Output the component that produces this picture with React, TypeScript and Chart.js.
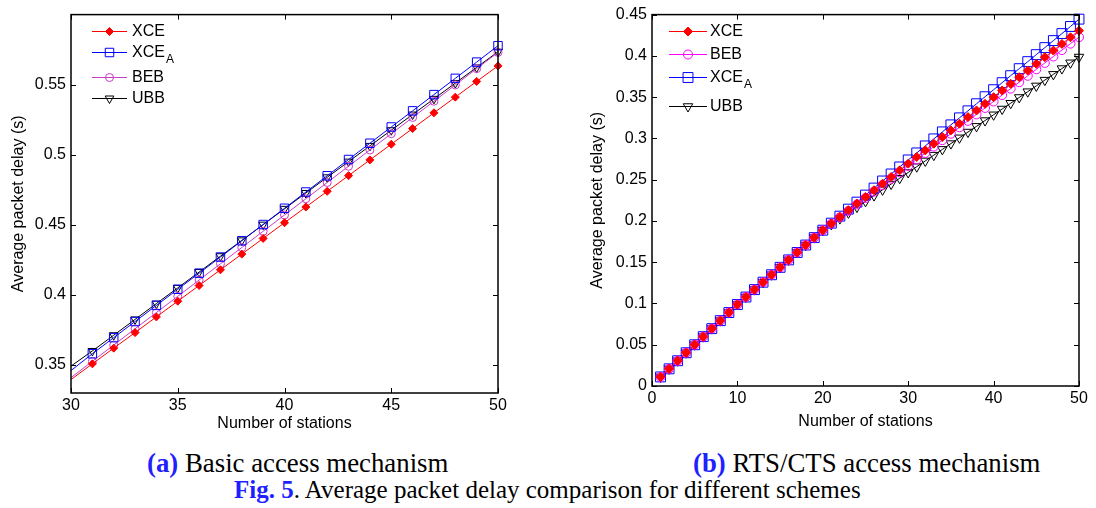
import React, { useEffect, useRef } from 'react';
import { Chart, registerables } from 'chart.js';

Chart.register(...registerables);

// ---------- Data: (a) Basic access mechanism ----------
const stationsA = [30, 31, 32, 33, 34, 35, 36, 37, 38, 39, 40, 41, 42, 43, 44, 45, 46, 47, 48, 49, 50];
const xceA_basic = [0.3396, 0.3508, 0.3620, 0.3731, 0.3843, 0.3955, 0.4067, 0.4179, 0.4291, 0.4403, 0.4515, 0.4627, 0.4739, 0.4851, 0.4963, 0.5075, 0.5187, 0.5299, 0.5411, 0.5523, 0.5634];
const xceSubA_basic = [0.3460, 0.3580, 0.3695, 0.3810, 0.3925, 0.4040, 0.4155, 0.4270, 0.4386, 0.4502, 0.4618, 0.4734, 0.4850, 0.4966, 0.5082, 0.5198, 0.5313, 0.5429, 0.5545, 0.5661, 0.5778];
const beb_basic = [0.3410, 0.3526, 0.3642, 0.3758, 0.3874, 0.3990, 0.4106, 0.4222, 0.4338, 0.4454, 0.4570, 0.4686, 0.4802, 0.4918, 0.5034, 0.5150, 0.5266, 0.5382, 0.5498, 0.5614, 0.5730];
const ubb_basic = [0.3492, 0.3600, 0.3712, 0.3825, 0.3938, 0.4050, 0.4163, 0.4276, 0.4389, 0.4501, 0.4614, 0.4727, 0.4839, 0.4951, 0.5063, 0.5175, 0.5287, 0.5399, 0.5511, 0.5623, 0.5735];
const xTicksA = [30, 35, 40, 45, 50];
const yTicksA = [0.35, 0.4, 0.45, 0.5, 0.55];

// ---------- Data: (b) RTS/CTS access mechanism ----------
const stationsB = [1, 2, 3, 4, 5, 6, 7, 8, 9, 10, 11, 12, 13, 14, 15, 16, 17, 18, 19, 20, 21, 22, 23, 24, 25, 26, 27, 28, 29, 30, 31, 32, 33, 34, 35, 36, 37, 38, 39, 40, 41, 42, 43, 44, 45, 46, 47, 48, 49, 50];
const xce_rts = [0.0110, 0.0208, 0.0306, 0.0403, 0.0500, 0.0598, 0.0695, 0.0792, 0.0890, 0.0988, 0.1078, 0.1168, 0.1258, 0.1348, 0.1438, 0.1528, 0.1618, 0.1708, 0.1798, 0.1888, 0.1969, 0.2049, 0.2130, 0.2210, 0.2291, 0.2372, 0.2452, 0.2533, 0.2613, 0.2694, 0.2775, 0.2855, 0.2936, 0.3016, 0.3097, 0.3178, 0.3258, 0.3339, 0.3419, 0.3500, 0.3581, 0.3661, 0.3742, 0.3822, 0.3903, 0.3984, 0.4064, 0.4145, 0.4225, 0.4305];
const beb_rts = [0.0110, 0.0208, 0.0306, 0.0403, 0.0500, 0.0598, 0.0695, 0.0792, 0.0890, 0.0988, 0.1078, 0.1168, 0.1258, 0.1348, 0.1438, 0.1528, 0.1618, 0.1708, 0.1798, 0.1888, 0.1966, 0.2044, 0.2122, 0.2200, 0.2278, 0.2356, 0.2434, 0.2512, 0.2590, 0.2668, 0.2745, 0.2823, 0.2901, 0.2979, 0.3057, 0.3135, 0.3213, 0.3291, 0.3369, 0.3447, 0.3525, 0.3603, 0.3681, 0.3759, 0.3837, 0.3914, 0.3992, 0.4070, 0.4148, 0.4226];
const xceSubA_rts = [0.0110, 0.0208, 0.0306, 0.0403, 0.0500, 0.0598, 0.0695, 0.0792, 0.0890, 0.0988, 0.1078, 0.1168, 0.1258, 0.1348, 0.1438, 0.1528, 0.1618, 0.1708, 0.1798, 0.1888, 0.1973, 0.2058, 0.2143, 0.2228, 0.2313, 0.2398, 0.2484, 0.2569, 0.2654, 0.2739, 0.2824, 0.2909, 0.2994, 0.3079, 0.3164, 0.3249, 0.3334, 0.3420, 0.3505, 0.3590, 0.3675, 0.3760, 0.3845, 0.3930, 0.4015, 0.4100, 0.4185, 0.4270, 0.4356, 0.4445];
const ubb_rts = [0.0110, 0.0208, 0.0306, 0.0403, 0.0500, 0.0598, 0.0695, 0.0792, 0.0890, 0.0988, 0.1078, 0.1168, 0.1258, 0.1348, 0.1438, 0.1528, 0.1618, 0.1708, 0.1798, 0.1888, 0.1958, 0.2028, 0.2098, 0.2168, 0.2237, 0.2307, 0.2377, 0.2447, 0.2517, 0.2587, 0.2657, 0.2727, 0.2797, 0.2867, 0.2937, 0.3007, 0.3077, 0.3146, 0.3216, 0.3286, 0.3356, 0.3426, 0.3496, 0.3566, 0.3636, 0.3706, 0.3776, 0.3846, 0.3916, 0.3986];
const xTicksB = [0, 10, 20, 30, 40, 50];
const yTicksB = [0, 0.05, 0.1, 0.15, 0.2, 0.25, 0.3, 0.35, 0.4, 0.45];

const FONT = "'Liberation Sans', Arial, sans-serif";

type Marker = 'diamond' | 'square' | 'circle' | 'tri';
interface SeriesDef { label: string; sub?: string; color: string; marker: Marker; values: number[]; size: number; }

function drawMarker(ctx: CanvasRenderingContext2D, m: Marker, x: number, y: number, color: string, s: number) {
  ctx.save();
  ctx.strokeStyle = color; ctx.fillStyle = color; ctx.lineWidth = 1;
  ctx.beginPath();
  if (m === 'diamond') {
    ctx.moveTo(x - s, y); ctx.lineTo(x, y - s); ctx.lineTo(x + s, y); ctx.lineTo(x, y + s); ctx.closePath();
    ctx.fill(); ctx.stroke();
  } else if (m === 'square') {
    const h = s * Math.SQRT1_2;
    ctx.rect(x - h, y - h, 2 * h, 2 * h); ctx.stroke();
  } else if (m === 'circle') {
    ctx.arc(x, y, s, 0, Math.PI * 2); ctx.stroke();
  } else {
    ctx.moveTo(x, y + s);
    ctx.lineTo(x - s * Math.sin(2 * Math.PI / 3), y - s * 0.5);
    ctx.lineTo(x + s * Math.sin(2 * Math.PI / 3), y - s * 0.5);
    ctx.closePath(); ctx.stroke();
  }
  ctx.restore();
}

function makeDataset(xs: number[], s: SeriesDef, hideFirst: boolean) {
  const styleMap: Record<Marker, string> = { diamond: 'rectRot', square: 'rect', circle: 'circle', tri: 'triangle' };
  return {
    label: s.label,
    data: xs.map((x, i) => ({ x, y: s.values[i] })),
    borderColor: s.color,
    borderWidth: 1,
    pointStyle: styleMap[s.marker],
    pointRotation: s.marker === 'tri' ? 180 : 0,
    pointRadius: xs.map((_, i) => (hideFirst && i === 0 ? 0 : s.size)),
    pointBorderColor: s.color,
    pointBackgroundColor: s.marker === 'diamond' ? s.color : 'rgba(0,0,0,0)',
    pointBorderWidth: 1,
    showLine: true,
    fill: false,
    tension: 0,
    clip: false as any,
  };
}

interface LegendLayout { lineX0: number; lineX1: number; textX: number; rows: number[]; }

function framePlugin(series: SeriesDef[], lg: LegendLayout) {
  return {
    id: 'matlabFrame',
    afterDraw(chart: any) {
      const { ctx, chartArea: a, scales } = chart;
      const xs = scales.x, ys = scales.y;
      ctx.save();
      ctx.strokeStyle = '#000';
      ctx.lineWidth = 1;
      ctx.beginPath();
      for (const t of xs.ticks) {
        const px = Math.round(xs.getPixelForValue(t.value)) + 0.5;
        ctx.moveTo(px, a.bottom); ctx.lineTo(px, a.bottom - 5);
        ctx.moveTo(px, a.top); ctx.lineTo(px, a.top + 5);
      }
      for (const t of ys.ticks) {
        const py = Math.round(ys.getPixelForValue(t.value)) + 0.5;
        ctx.moveTo(a.left, py); ctx.lineTo(a.left + 5, py);
        ctx.moveTo(a.right, py); ctx.lineTo(a.right - 5, py);
      }
      ctx.stroke();
      ctx.lineWidth = 1.5;
      ctx.strokeRect(a.left, a.top, a.right - a.left, a.bottom - a.top);
      // legend
      series.forEach((s, i) => {
        const y = lg.rows[i];
        ctx.strokeStyle = s.color; ctx.lineWidth = 1;
        ctx.beginPath(); ctx.moveTo(lg.lineX0, y + 0.5); ctx.lineTo(lg.lineX1, y + 0.5); ctx.stroke();
        drawMarker(ctx, s.marker, (lg.lineX0 + lg.lineX1) / 2, y + 0.5, s.color, s.size);
        ctx.fillStyle = '#000';
        ctx.font = `16px ${FONT}`;
        ctx.textBaseline = 'middle';
        ctx.textAlign = 'left';
        ctx.fillText(s.label, lg.textX, y + 1);
        if (s.sub) {
          const w = ctx.measureText(s.label).width;
          ctx.font = `12px ${FONT}`;
          ctx.fillText(s.sub, lg.textX + w + 1, y + 8);
        }
      });
      ctx.restore();
    },
  };
}

interface PanelProps {
  xs: number[]; series: SeriesDef[]; xTicks: number[]; yTicks: number[];
  xMin: number; xMax: number; yMin: number; yMax: number;
  width: number; height: number; yAxisWidth: number; xAxisHeight: number;
  padTop: number; padRight: number; yTitlePad: number; xTitlePad: number;
  legend: LegendLayout; hideFirst: boolean; left: number;
}

function Panel(p: PanelProps) {
  const ref = useRef<HTMLCanvasElement>(null);
  useEffect(() => {
    if (!ref.current) return;
    const chart = new Chart(ref.current, {
      type: 'line',
      data: { datasets: p.series.map((s) => makeDataset(p.xs, s, p.hideFirst)) as any },
      options: {
        animation: false,
        responsive: false,
        devicePixelRatio: 1,
        layout: { padding: { top: p.padTop, right: p.padRight, left: 0, bottom: 0 } },
        plugins: { legend: { display: false }, tooltip: { enabled: false } },
        scales: {
          x: {
            type: 'linear', min: p.xMin, max: p.xMax,
            grid: { display: false, drawTicks: false },
            border: { display: false },
            afterBuildTicks: (sc: any) => { sc.ticks = p.xTicks.map((v) => ({ value: v })); },
            afterFit: (sc: any) => { sc.height = p.xAxisHeight; },
            ticks: { padding: 3, color: '#000', font: { family: FONT, size: 16 }, callback: (v: any) => String(v), maxRotation: 0, autoSkip: false },
            title: { display: true, text: 'Number of stations', color: '#000', font: { family: FONT, size: 16 }, padding: { top: 0, bottom: p.xTitlePad } },
          },
          y: {
            type: 'linear', min: p.yMin, max: p.yMax,
            grid: { display: false, drawTicks: false },
            border: { display: false },
            afterBuildTicks: (sc: any) => { sc.ticks = p.yTicks.map((v) => ({ value: v })); },
            afterFit: (sc: any) => { sc.width = p.yAxisWidth; },
            ticks: { padding: 5, color: '#000', font: { family: FONT, size: 16 }, callback: (v: any) => String(v), autoSkip: false },
            title: { display: true, text: 'Average packet delay (s)', color: '#000', font: { family: FONT, size: 16 }, padding: { top: p.yTitlePad, bottom: 0 } },
          },
        },
      } as any,
      plugins: [framePlugin(p.series, p.legend) as any],
    });
    return () => chart.destroy();
  }, []);
  return (
    <canvas ref={ref} width={p.width} height={p.height}
      style={{ position: 'absolute', left: p.left, top: 0, width: p.width, height: p.height }} />
  );
}

const seriesA: SeriesDef[] = [
  { label: 'XCE', color: '#ff0000', marker: 'diamond', values: xceA_basic, size: 4 },
  { label: 'XCE', sub: 'A', color: '#0000ff', marker: 'square', values: xceSubA_basic, size: 6 },
  { label: 'BEB', color: '#c83cc8', marker: 'circle', values: beb_basic, size: 4 },
  { label: 'UBB', color: '#000000', marker: 'tri', values: ubb_basic, size: 5 },
];

const seriesB: SeriesDef[] = [
  { label: 'XCE', color: '#ff0000', marker: 'diamond', values: xce_rts, size: 4.5 },
  { label: 'BEB', color: '#ff00ff', marker: 'circle', values: beb_rts, size: 4.5 },
  { label: 'XCE', sub: 'A', color: '#0000ff', marker: 'square', values: xceSubA_rts, size: 7 },
  { label: 'UBB', color: '#000000', marker: 'tri', values: ubb_rts, size: 5.5 },
];

const captionStyle: React.CSSProperties = {
  position: 'absolute', fontFamily: "'Liberation Serif', 'Times New Roman', serif", color: '#000',
  whiteSpace: 'nowrap', lineHeight: '30px', margin: 0,
};
const blue: React.CSSProperties = { color: '#1f1fff', fontWeight: 'bold' };

export default function App() {
  return (
    <div style={{ position: 'absolute', left: 0, top: 0, width: 1096, height: 508, background: '#fff', overflow: 'hidden' }}>
      <Panel xs={stationsA} series={seriesA} xTicks={xTicksA} yTicks={yTicksA}
        xMin={30} xMax={50} yMin={0.33} yMax={0.6}
        width={530} height={440} yAxisWidth={71} xAxisHeight={47}
        padTop={13} padRight={32} yTitlePad={9} xTitlePad={7}
        legend={{ lineX0: 92, lineX1: 127, textX: 132, rows: [31, 52, 77, 98] }}
        hideFirst={true} left={0} />
      <Panel xs={stationsB} series={seriesB} xTicks={xTicksB} yTicks={yTicksB}
        xMin={0} xMax={50} yMin={0} yMax={0.45}
        width={536} height={440} yAxisWidth={92} xAxisHeight={54}
        padTop={11} padRight={17} yTitlePad={28} xTitlePad={9}
        legend={{ lineX0: 109, lineX1: 147, textX: 150, rows: [31, 54, 77, 106] }}
        hideFirst={false} left={560} />
      <div style={{ ...captionStyle, left: 147, top: 448, fontSize: 26.8 }}>
        <span style={blue}>(a)</span> Basic access mechanism
      </div>
      <div style={{ ...captionStyle, left: 693, top: 448, fontSize: 26.8 }}>
        <span style={blue}>(b)</span> RTS/CTS access mechanism
      </div>
      <div style={{ ...captionStyle, left: 234, top: 475, fontSize: 25 }}>
        <span style={blue}>Fig. 5</span>. Average packet delay comparison for different schemes
      </div>
    </div>
  );
}
